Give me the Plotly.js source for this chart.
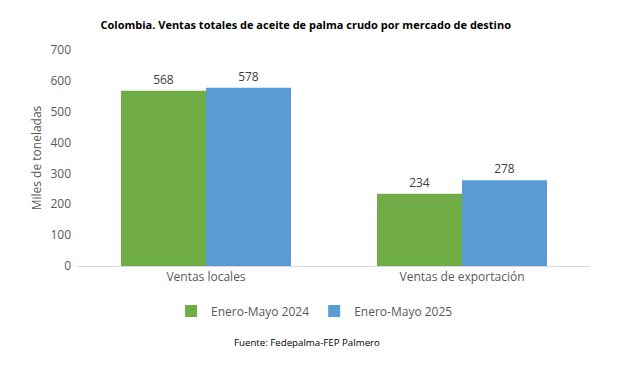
<!DOCTYPE html>
<html><head><meta charset="utf-8">
<script src="https://cdn.plot.ly/plotly-3.0.1.min.js"></script>
<style>html,body{margin:0;padding:0;background:#fff}#chart{width:624px;height:387px}</style>
</head><body><div id="chart"></div>
<script>
const categories = ["Ventas locales", "Ventas de exportación"];
const series2024 = [568, 234];
const series2025 = [578, 278];
const seriesNames = ["Enero-Mayo 2024", "Enero-Mayo 2025"];

const font = "'Open Sans', 'Noto Sans', sans-serif";
const traces = [
  {type:'bar', x:categories, y:series2024, name:seriesNames[0], marker:{color:'#70AD47'},
   text:series2024.map(String), textposition:'outside', textfont:{size:12, color:'#404040', family:font}, cliponaxis:false},
  {type:'bar', x:categories, y:series2025, name:seriesNames[1], marker:{color:'#5B9BD5'},
   text:series2025.map(String), textposition:'outside', textfont:{size:12, color:'#404040', family:font}, cliponaxis:false}
];
const layout = {
  width:624, height:387,
  margin:{l:78, r:34, t:50, b:121},
  paper_bgcolor:'#fff', plot_bgcolor:'#fff',
  font:{family:font, color:'#595959', size:12},
  title:{text:'<b>Colombia. Ventas totales de aceite de palma crudo por mercado de destino</b>',
    font:{family:font, size:11, color:'#000'}, x:0.49, xanchor:'center', y:0.935, yanchor:'middle'},
  barmode:'group', bargap:0.336, bargroupgap:0,
  xaxis:{showline:true, linecolor:'#d9d9d9', linewidth:1, ticks:'', showgrid:false,
    tickfont:{size:12, color:'#595959'}},
  yaxis:{range:[0,700], dtick:100, showgrid:false, zeroline:false, showline:false, ticks:'',
    tickfont:{size:12, color:'#595959'}, ticklabelstandoff:6,
    title:{text:'Miles de toneladas', font:{size:12, color:'#595959'}, standoff:6}},
  showlegend:true,
  legend:{orientation:'h', x:0.462, xanchor:'center', y:-0.208, yanchor:'middle',
    font:{size:12, color:'#595959'}, itemwidth:30},
  annotations:[{text:'Fuente: Fedepalma-FEP Palmero', xref:'paper', yref:'paper', x:0.447, y:-0.356,
    xanchor:'center', yanchor:'middle', showarrow:false, font:{family:font, size:9.7, color:'#000'}}]
};
Plotly.newPlot('chart', traces, layout, {displayModeBar:false, staticPlot:true});
</script></body></html>
